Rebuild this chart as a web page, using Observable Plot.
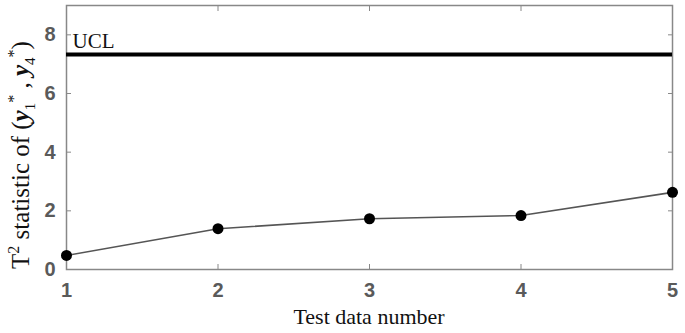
<!DOCTYPE html>
<html><head><meta charset="utf-8">
<script src="https://cdn.jsdelivr.net/npm/d3@7"></script>
<script src="https://cdn.jsdelivr.net/npm/@observablehq/plot@0.6"></script>
<style>body{margin:0;background:#fff}</style>
</head><body><div id="chart"></div>
<script>
const testNumbers = [1, 2, 3, 4, 5];
const t2Values = [0.48, 1.39, 1.73, 1.84, 2.63];
const uclValue = [7.33];
const uclLabel = ["UCL"];
const xTicks = [1, 2, 3, 4, 5];
const yTicks = [0, 2, 4, 6, 8];

const data = testNumbers.map((x, i) => ({x, y: t2Values[i]}));
const gray = "#888";
const tickFont = {fontFamily: "Liberation Sans, Arial, sans-serif", fontSize: 20, fill: "#5a5a5a", fontWeight: "bold"};

const chart = Plot.plot({
  width: 685, height: 333,
  marginLeft: 66, marginRight: 13, marginTop: 5, marginBottom: 64,
  x: {domain: [1, 5]},
  y: {domain: [0, 9]},
  style: {background: "#fff"},
  marks: [
    Plot.frame({stroke: gray, strokeWidth: 1.5}),
    Plot.axisX(xTicks, {anchor: "bottom", tickSize: -5, tickPadding: 18, tickFormat: "d", stroke: gray, ...tickFont, label: null}),
    Plot.axisX(xTicks, {anchor: "top", tickSize: -5, stroke: gray, text: null, label: null}),
    Plot.axisY(yTicks, {anchor: "left", tickSize: -5, tickPadding: 16, tickFormat: "d", stroke: gray, ...tickFont, label: null}),
    Plot.axisY(yTicks, {anchor: "right", tickSize: -5, stroke: gray, text: null, label: null}),
    Plot.ruleY(uclValue, {stroke: "#000", strokeWidth: 4}),
    Plot.text(uclLabel, {x: () => 1, y: () => uclValue[0], text: d => d, textAnchor: "start", dx: 6, dy: -13, fontFamily: "Liberation Serif, Times New Roman, serif", fontSize: 21, fill: "#111"}),
    Plot.line(data, {x: "x", y: "y", stroke: "#555", strokeWidth: 1.6}),
    Plot.dot(data, {x: "x", y: "y", r: 5.5, fill: "#000", stroke: "none"})
  ]
});
document.getElementById("chart").appendChild(chart);

const svg = d3.select(chart);
const serif = "Liberation Serif, Times New Roman, serif";
svg.append("text")
  .attr("x", 369).attr("y", 324)
  .attr("text-anchor", "middle")
  .attr("font-family", serif).attr("font-size", 22).attr("fill", "#111")
  .text("Test data number");

const yl = svg.append("text")
  .attr("transform", "translate(29,155) rotate(-90)")
  .attr("text-anchor", "middle")
  .attr("font-family", serif).attr("font-size", 25).attr("fill", "#111");
yl.append("tspan").text("T");
yl.append("tspan").attr("dy", -10).attr("font-size", 16).text("2");
yl.append("tspan").attr("dy", 10).text(" statistic of (");
yl.append("tspan").attr("font-style", "italic").attr("font-weight", "bold").text("y");
yl.append("tspan").attr("dy", 6).attr("font-size", 15).text("1");
yl.append("tspan").attr("dy", -16).attr("font-size", 16).text("*");
yl.append("tspan").attr("dy", 10).text(" , ");
yl.append("tspan").attr("font-style", "italic").attr("font-weight", "bold").text("y");
yl.append("tspan").attr("dy", 6).attr("font-size", 15).text("4");
yl.append("tspan").attr("dy", -16).attr("font-size", 16).text("*");
yl.append("tspan").attr("dy", 10).text(")");
</script>
</body></html>
